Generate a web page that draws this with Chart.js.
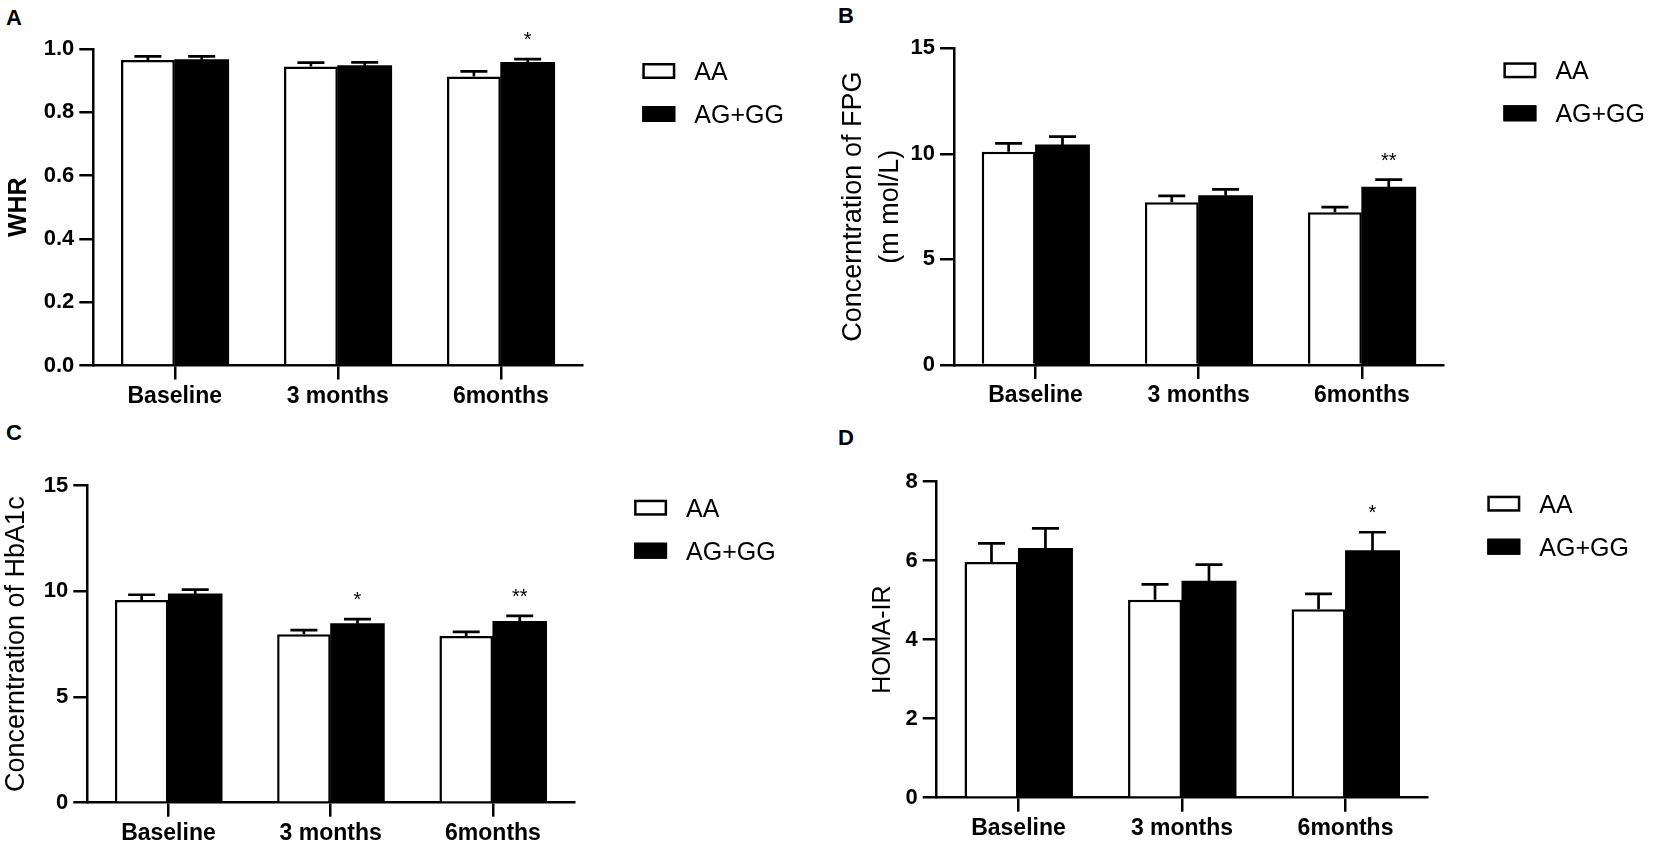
<!DOCTYPE html>
<html>
<head>
<meta charset="utf-8">
<script src="https://cdn.jsdelivr.net/npm/chart.js@4.4.1/dist/chart.umd.min.js"></script>
<style>
html,body{margin:0;padding:0;background:#fff;}
body{width:1654px;height:845px;position:relative;overflow:hidden;}
.panel{position:absolute;}
.letter{position:absolute;font:bold 22px 'Liberation Sans',Arial,sans-serif;color:#000;line-height:1;}
</style>
</head>
<body>
<div class="letter" style="left:6px;top:7px">A</div>
<div class="letter" style="left:838px;top:5px">B</div>
<div class="letter" style="left:6px;top:422px">C</div>
<div class="letter" style="left:838px;top:427px">D</div>

<div class="panel" style="left:0px;top:0px;width:827px;height:422px"><canvas id="cA"></canvas></div>
<div class="panel" style="left:827px;top:0px;width:827px;height:422px"><canvas id="cB"></canvas></div>
<div class="panel" style="left:0px;top:422px;width:827px;height:423px"><canvas id="cC"></canvas></div>
<div class="panel" style="left:827px;top:422px;width:827px;height:423px"><canvas id="cD"></canvas></div>

<script>
// ---------- data ----------
const categories = ['Baseline', '3 months', '6months'];
const seriesNames = ['AA', 'AG+GG'];

// Panel A: WHR
const whrAA = [0.965, 0.945, 0.913];
const whrAAErr = [0.012, 0.012, 0.016];
const whrAG = [0.966, 0.947, 0.957];
const whrAGErr = [0.011, 0.011, 0.011];
const whrAASig = ['', '', ''];
const whrAGSig = ['', '', '*'];
const whrTicks = [0.0, 0.2, 0.4, 0.6, 0.8, 1.0];

// Panel B: FPG (mmol/L)
const fpgAA = [10.10, 7.71, 7.23];
const fpgAAErr = [0.40, 0.30, 0.25];
const fpgAG = [10.42, 8.02, 8.42];
const fpgAGErr = [0.40, 0.30, 0.36];
const fpgAASig = ['', '', ''];
const fpgAGSig = ['', '', '**'];
const fpgTicks = [0, 5, 10, 15];

// Panel C: HbA1c
const hbaAA = [9.59, 7.97, 7.89];
const hbaAAErr = [0.25, 0.20, 0.19];
const hbaAG = [9.88, 8.47, 8.57];
const hbaAGErr = [0.20, 0.22, 0.27];
const hbaAASig = ['', '', ''];
const hbaAGSig = ['', '*', '**'];
const hbaTicks = [0, 5, 10, 15];

// Panel D: HOMA-IR
const homaAA = [5.97, 5.01, 4.77];
const homaAAErr = [0.47, 0.39, 0.39];
const homaAG = [6.31, 5.48, 6.25];
const homaAGErr = [0.51, 0.42, 0.47];
const homaAASig = ['', '', ''];
const homaAGSig = ['', '', '*'];
const homaTicks = [0, 2, 4, 6, 8];

// ---------- styling ----------
const FONT = "'Liberation Sans', Arial, sans-serif";
const INK = '#000';

const decorPlugin = {
  id: 'decor',
  afterDatasetsDraw(chart) {
    const ctx = chart.ctx;
    const y = chart.scales.y;
    ctx.save();
    chart.data.datasets.forEach((ds, i) => {
      const meta = chart.getDatasetMeta(i);
      meta.data.forEach((bar, j) => {
        const top = y.getPixelForValue(ds.data[j] + ds.err[j]);
        ctx.strokeStyle = INK;
        ctx.lineWidth = 2.7;
        ctx.beginPath();
        ctx.moveTo(bar.x, bar.y);
        ctx.lineTo(bar.x, top);
        ctx.moveTo(bar.x - 13.5, top);
        ctx.lineTo(bar.x + 13.5, top);
        ctx.stroke();
        if (ds.sig[j]) {
          ctx.fillStyle = INK;
          ctx.font = '20px ' + FONT;
          ctx.textAlign = 'center';
          ctx.textBaseline = 'alphabetic';
          ctx.fillText(ds.sig[j], bar.x, top - 13);
        }
      });
    });
    // legend
    const a = chart.chartArea;
    chart.data.datasets.forEach((ds, i) => {
      const bx = a.right + 60;
      const by = a.top + 14 + i * 43;
      ctx.fillStyle = ds.backgroundColor;
      ctx.fillRect(bx, by, 33, 16);
      ctx.lineWidth = 2.5;
      ctx.strokeStyle = INK;
      ctx.strokeRect(bx + 1.25, by + 1.25, 30.5, 13.5);
      ctx.fillStyle = INK;
      ctx.font = '25px ' + FONT;
      ctx.textAlign = 'left';
      ctx.textBaseline = 'alphabetic';
      ctx.fillText(ds.label, bx + 52, by + 8 + 0.358 * 25);
    });
    ctx.restore();
  }
};

function makeChart(id, cfg) {
  const tk = cfg.ticks;
  const datasets = [
    { label: seriesNames[0], data: cfg.aa, err: cfg.aaErr, sig: cfg.aaSig,
      backgroundColor: '#ffffff', borderColor: INK, borderWidth: 2.5, inflateAmount: 0 },
    { label: seriesNames[1], data: cfg.ag, err: cfg.agErr, sig: cfg.agSig,
      backgroundColor: '#000000', borderColor: INK, borderWidth: 0, inflateAmount: 0.5 }
  ];
  return new Chart(document.getElementById(id), {
    type: 'bar',
    data: { labels: categories, datasets },
    plugins: [decorPlugin],
    options: {
      responsive: true,
      maintainAspectRatio: false,
      animation: false,
      events: [],
      layout: { padding: { top: cfg.padTop, right: cfg.padRight, left: 0, bottom: 0 } },
      datasets: { bar: { categoryPercentage: 0.66, barPercentage: 1.0 } },
      plugins: { legend: { display: false }, tooltip: { enabled: false } },
      scales: {
        x: {
          offset: true,
          afterFit: (s) => { s.height = cfg.xHeight; },
          grid: { display: true, drawOnChartArea: false, offset: false, drawTicks: true,
                  tickLength: 14, color: INK, lineWidth: 2.5 },
          border: { display: true, color: INK, width: 2.5 },
          ticks: { color: INK, padding: 3, maxRotation: 0,
                   font: { family: FONT, size: 23, weight: 'bold' } }
        },
        y: {
          min: tk[0],
          max: tk[tk.length - 1],
          afterFit: (s) => { s.width = cfg.yWidth; },
          afterBuildTicks: (s) => { s.ticks = tk.map(v => ({ value: v })); },
          grid: { display: true, drawOnChartArea: false, drawTicks: true,
                  tickLength: 14, color: INK, lineWidth: 2.5 },
          border: { display: true, color: INK, width: 2.5 },
          ticks: { color: INK, padding: 5,
                   font: { family: FONT, size: 22, weight: 'bold' },
                   callback: (v) => v.toFixed(cfg.decimals) },
          title: { display: true, text: cfg.title, color: INK,
                   padding: { top: cfg.titlePad, bottom: 0 },
                   font: { family: FONT, size: cfg.titleSize, weight: cfg.titleWeight,
                           lineHeight: cfg.titleLH } }
        }
      }
    }
  });
}

makeChart('cA', {
  aa: whrAA, aaErr: whrAAErr, aaSig: whrAASig,
  ag: whrAG, agErr: whrAGErr, agSig: whrAGSig,
  ticks: whrTicks, decimals: 1,
  title: 'WHR', titleSize: 25, titleWeight: 'bold', titleLH: 1.2, titlePad: 4,
  padTop: 49, padRight: 244.7, yWidth: 93.3, xHeight: 56.5
});
makeChart('cB', {
  aa: fpgAA, aaErr: fpgAAErr, aaSig: fpgAASig,
  ag: fpgAG, agErr: fpgAGErr, agSig: fpgAGSig,
  ticks: fpgTicks, decimals: 0,
  title: ['Concerntration of FPG', '(m mol/L)'], titleSize: 27, titleWeight: 'normal', titleLH: 1.37, titlePad: 8,
  padTop: 48.3, padRight: 210.6, yWidth: 127, xHeight: 57
});
makeChart('cC', {
  aa: hbaAA, aaErr: hbaAAErr, aaSig: hbaAASig,
  ag: hbaAG, agErr: hbaAGErr, agSig: hbaAGSig,
  ticks: hbaTicks, decimals: 0,
  title: 'Concerntration of HbA1c', titleSize: 27, titleWeight: 'normal', titleLH: 1.2, titlePad: 0,
  padTop: 63.7, padRight: 252.9, yWidth: 87.3, xHeight: 42.3
});
makeChart('cD', {
  aa: homaAA, aaErr: homaAAErr, aaSig: homaAASig,
  ag: homaAG, agErr: homaAGErr, agSig: homaAGSig,
  ticks: homaTicks, decimals: 0,
  title: 'HOMA-IR', titleSize: 25, titleWeight: 'normal', titleLH: 1.2, titlePad: 41.5,
  padTop: 59.7, padRight: 226.7, yWidth: 109.7, xHeight: 47.3
});
</script>
</body>
</html>
